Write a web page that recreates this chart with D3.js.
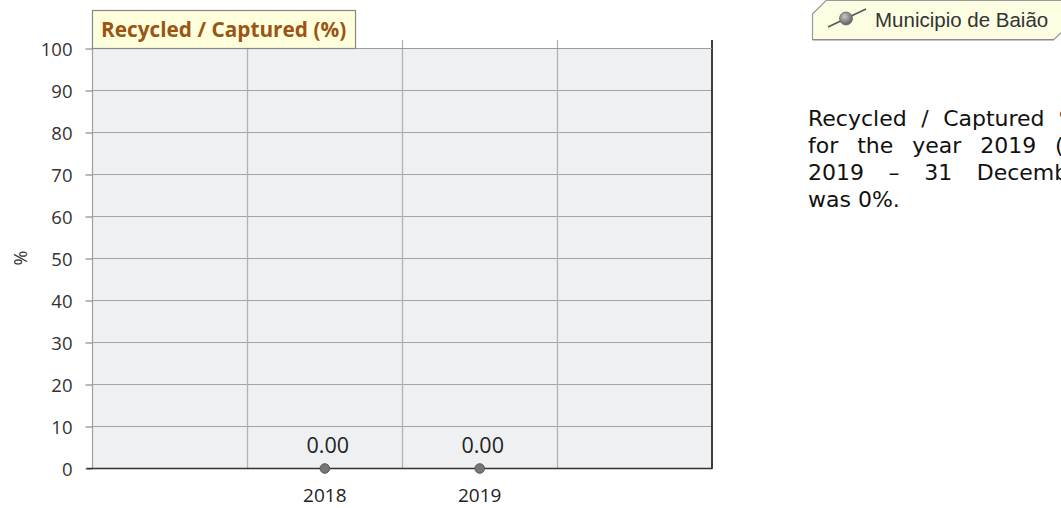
<!DOCTYPE html>
<html>
<head>
<meta charset="utf-8">
<script src="https://cdn.jsdelivr.net/npm/d3@7"></script>
<style>
  html, body { margin: 0; padding: 0; background: #fff; overflow: hidden; }
  #wrap { position: relative; width: 1061px; height: 508px; overflow: hidden; }
  svg { position: absolute; left: 0; top: 0; }
  #para { position: absolute; left: 808px; top: 105px; font-family: "DejaVu Sans", Verdana, sans-serif; font-size: 22px; line-height: 27px; color: #111; white-space: nowrap; }
  #para div { text-align: justify; white-space: normal; }
</style>
</head>
<body>
<div id="wrap">
  <svg id="chart" width="1061" height="508"></svg>
  <div id="para"></div>
</div>
<script>
// ---- data ----
const slots = ["", "2018", "2019", " "];          // x slots (first/last are empty padding slots)
const years = ["2018", "2019"];
const values = [0.00, 0.00];
const yTicks = [0, 10, 20, 30, 40, 50, 60, 70, 80, 90, 100];
const chartTitle = "Recycled / Captured (%)";
const yTitle = "%";
const legendLabel = "Municipio de Baião";
const paraLines = [
  "Recycled / Captured %",
  "for the year 2019 (1 January",
  "2019 – 31 December 2019)",
  "was 0%."
];

// ---- layout ----
const L = 92.5, R = 712, T = 48, B = 468;
const svg = d3.select("#chart");

const x = d3.scaleBand().domain(slots).range([L, R]).paddingInner(0).paddingOuter(0);
const y = d3.scaleLinear().domain([0, 100]).range([B, T]);

// plot background
svg.append("rect").attr("x", L).attr("y", T).attr("width", R - L).attr("height", B - T).attr("fill", "#eff0f2");

// horizontal grid lines
svg.append("g").selectAll("line").data(yTicks.filter(d => d > 0)).join("line")
  .attr("x1", L).attr("x2", R).attr("y1", d => Math.round(y(d)) + 0.5).attr("y2", d => Math.round(y(d)) + 0.5)
  .attr("stroke", "#a3a3a3").attr("stroke-width", 1.2);

// vertical grid lines at slot boundaries
svg.append("g").selectAll("line").data(slots.slice(1)).join("line")
  .attr("x1", d => Math.round(x(d)) + 0.5).attr("x2", d => Math.round(x(d)) + 0.5)
  .attr("y1", T - 8).attr("y2", B)
  .attr("stroke", "#b3b3b3").attr("stroke-width", 1.3);

// left axis line
svg.append("line").attr("x1", L).attr("x2", L).attr("y1", T).attr("y2", B).attr("stroke", "#a0a0a0").attr("stroke-width", 1.2);
// right border (dark)
svg.append("line").attr("x1", R).attr("x2", R).attr("y1", T - 8).attr("y2", B + 1).attr("stroke", "#3d3d3d").attr("stroke-width", 2);

// y axis with D3
const yAxis = d3.axisLeft(y).tickValues(yTicks).tickSize(7).tickPadding(13).tickFormat(d3.format("d"));
const gy = svg.append("g").attr("transform", `translate(${L},0.5)`).call(yAxis);
gy.select(".domain").remove();
gy.selectAll(".tick line").attr("stroke", "#8a8a8a").attr("stroke-width", 1.2);
gy.selectAll(".tick text").attr("fill", "#333").attr("font-family", "'Open Sans', sans-serif").attr("font-size", 18.5).attr("dy", "0.36em");

// top border
svg.append("line").attr("x1", L).attr("x2", R).attr("y1", T + 0.5).attr("y2", T + 0.5).attr("stroke", "#9b9b9b").attr("stroke-width", 1.2);

// bottom axis line (zero)
svg.append("line").attr("x1", L - 6).attr("x2", R).attr("y1", y(0) + 0.5).attr("y2", y(0) + 0.5).attr("stroke", "#333").attr("stroke-width", 1.6);

// x axis labels
const xAxis = d3.axisBottom(x).tickValues(years).tickSize(0).tickPadding(21);
const gx = svg.append("g").attr("transform", `translate(0,${B})`).call(xAxis);
gx.select(".domain").remove();
gx.selectAll(".tick text").attr("fill", "#222").attr("font-family", "'Open Sans', sans-serif").attr("font-size", 19);

// points
const pts = years.map((yr, i) => ({ yr, v: values[i] }));
svg.append("g").selectAll("circle").data(pts).join("circle")
  .attr("cx", d => x(d.yr) + x.bandwidth() / 2).attr("cy", d => y(d.v) + 0.5).attr("r", 4.8)
  .attr("fill", "#767676").attr("stroke", "#5a5a5a").attr("stroke-width", 1);

// value labels
svg.append("g").selectAll("text").data(pts).join("text")
  .attr("x", d => x(d.yr) + x.bandwidth() / 2 + 3).attr("y", d => y(d.v) - 15)
  .attr("text-anchor", "middle").attr("fill", "#222")
  .attr("font-family", "'Open Sans', sans-serif").attr("font-size", 21.5)
  .text(d => d3.format(".2f")(d.v));

// y title
svg.append("text").attr("transform", `translate(21,${y(50)}) rotate(-90)`)
  .attr("text-anchor", "middle").attr("dy", "0.35em").attr("fill", "#333")
  .attr("font-family", "'Open Sans', sans-serif").attr("font-size", 18)
  .text(yTitle);

// title box
svg.append("rect").attr("x", L).attr("y", 10.5).attr("width", 263).attr("height", 38)
  .attr("fill", "#ffffdc").attr("stroke", "#878787").attr("stroke-width", 1.2);
svg.append("text").attr("x", 101).attr("y", 37).attr("fill", "#9a5516")
  .attr("font-family", "'Open Sans', sans-serif").attr("font-weight", "bold").attr("font-size", 20.8)
  .text(chartTitle);

// legend
const lg = svg.append("g");
lg.append("path").attr("d", "M812.5,14 L826,0.5 L1062,0.5 L1062,32 L1054,39.5 L812.5,39.5 Z")
  .attr("fill", "#fdfde1").attr("stroke", "#9a9a9a").attr("stroke-width", 1.2);
lg.append("line").attr("x1", 812.5).attr("x2", 1054).attr("y1", 39.8).attr("y2", 39.8).attr("stroke", "#8a8a8a").attr("stroke-width", 1.5);
const grad = svg.append("defs").append("radialGradient").attr("id", "lgGrad").attr("cx", "40%").attr("cy", "35%").attr("r", "65%");
grad.append("stop").attr("offset", "0%").attr("stop-color", "#c8c8c8");
grad.append("stop").attr("offset", "100%").attr("stop-color", "#5e5e5e");
lg.append("line").attr("x1", 828).attr("y1", 27).attr("x2", 866).attr("y2", 9).attr("stroke", "#555").attr("stroke-width", 1.6);
lg.append("circle").attr("cx", 846).attr("cy", 18.5).attr("r", 6.5).attr("fill", "url(#lgGrad)").attr("stroke", "#666").attr("stroke-width", 0.8);
lg.append("text").attr("x", 875).attr("y", 27).attr("fill", "#333")
  .attr("font-family", "'Liberation Sans', Arial, sans-serif").attr("font-size", 20.5)
  .text(legendLabel);

// paragraph (justified; runs past the right edge of the window as in the reference)
const para = d3.select("#para");
const lineWidths = [272, 372, 372, null];
para.selectAll("div").data(paraLines).join("div")
  .style("width", (d, i) => lineWidths[i] ? lineWidths[i] + "px" : null)
  .style("text-align-last", (d, i) => lineWidths[i] ? "justify" : "left")
  .text(d => d);
</script>
</body>
</html>
